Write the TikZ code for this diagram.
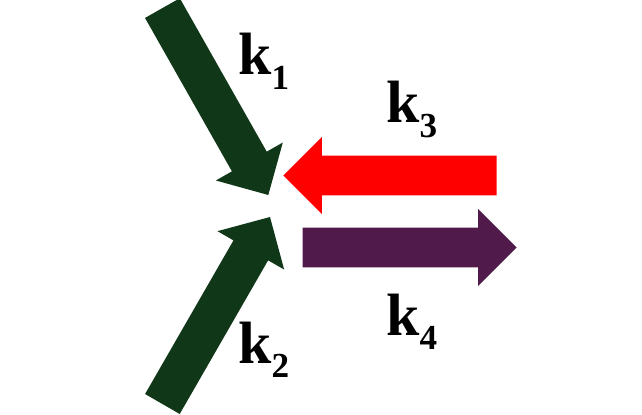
\documentclass[tikz,border=0pt]{standalone}
\usepackage{fontspec}
\setmainfont{Liberation Serif}
\usepackage{xcolor}
\usetikzlibrary{calc}

\definecolor{rategreen}{RGB}{16,56,24}
\definecolor{ratered}{RGB}{255,0,0}
\definecolor{ratepurple}{RGB}{80,26,74}

% block arrow from tail #2 to tip #3
\newcommand{\blockarrow}[3]{%
  \coordinate (ba-base) at ($(#3)!0.77cm!(#2)$);
  \fill[#1] ($(#2)!0.4cm!90:(#3)$) -- ($(ba-base)!0.4cm!90:(#3)$) -- ($(ba-base)!0.77cm!90:(#3)$)
    -- (#3) -- ($(ba-base)!0.77cm!-90:(#3)$) -- ($(ba-base)!0.4cm!-90:(#3)$) -- ($(#2)!0.4cm!-90:(#3)$) -- cycle;
}
% rate constant label
\newcommand{\klab}[1]{\bfseries{\fontsize{34}{34}\selectfont k}\raisebox{-8pt}{\fontsize{20}{20}\selectfont #1}}

\begin{document}
\begin{tikzpicture}[x=0.02cm, y=-0.02cm]
\useasboundingbox (0,0) rectangle (642,415);

% incoming arrows
\coordinate (t1) at (162.4,8.1);
\coordinate (p1) at (268.3,195);
\coordinate (t2) at (162.4,404);
\coordinate (p2) at (270,217);
\blockarrow{rategreen}{t1}{p1}
\blockarrow{rategreen}{t2}{p2}

% reverse and forward arrows
\coordinate (t3) at (496.7,175.5);
\coordinate (p3) at (283.3,175.5);
\coordinate (t4) at (302.7,247.5);
\coordinate (p4) at (516.7,247.5);
\blockarrow{ratered}{t3}{p3}
\blockarrow{ratepurple}{t4}{p4}

% labels
\node[anchor=base west, inner sep=0] (k1) at (238,75) {\klab{1}};
\node[anchor=base west, inner sep=0] (k2) at (238,363) {\klab{2}};
\node[anchor=base west, inner sep=0] (k3) at (386,123) {\klab{3}};
\node[anchor=base west, inner sep=0] (k4) at (386,335) {\klab{4}};
\end{tikzpicture}
\end{document}
